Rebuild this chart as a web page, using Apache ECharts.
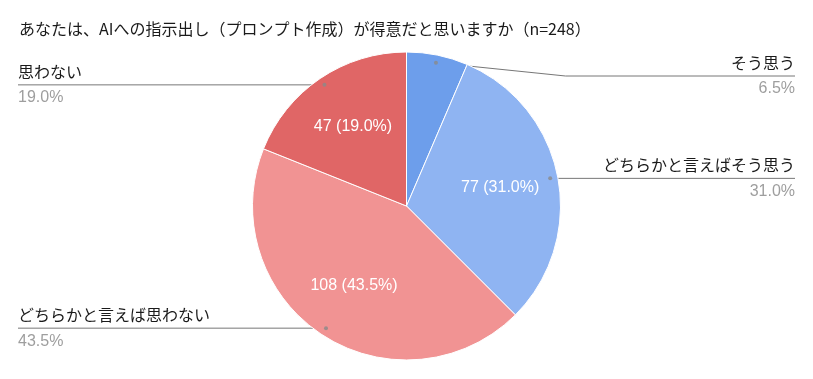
<!DOCTYPE html>
<html><head><meta charset="utf-8">
<script src="https://cdn.jsdelivr.net/npm/echarts@6/dist/echarts.min.js"></script>
<style>html,body{margin:0;padding:0;background:#fff}#c{width:813px;height:379px}</style>
</head><body><div id="c"></div>
<script>
const titleText = 'あなたは、AIへの指示出し（プロンプト作成）が得意だと思いますか（n=248）';
const categories = ['そう思う', 'どちらかと言えばそう思う', 'どちらかと言えば思わない', '思わない'];
const values = [16, 77, 108, 47];
const colors = ['#6d9eeb', '#8fb4f2', '#f19393', '#e06666'];

const W = 813, CX = 406.5, CY = 206, R = 154, ANCHOR = 0.95, EDGE = 18;
const total = values.reduce((a, b) => a + b, 0);
const pct = v => (v / total * 100).toFixed(1);
const mids = [];
let acc = 0;
values.forEach(v => { mids.push(acc + v / 2); acc += v; });
const anchors = mids.map(m => {
  const a = m / total * Math.PI * 2;
  return { x: CX + ANCHOR * R * Math.sin(a), y: CY - ANCHOR * R * Math.cos(a), right: Math.sin(a) >= 0 };
});

const chart = echarts.init(document.getElementById('c'));
const jp = "'Noto Sans CJK JP', sans-serif";
const num = "'Liberation Sans', Arial, sans-serif";

chart.setOption({
  backgroundColor: '#fff',
  animation: false,
  title: {
    text: titleText, left: 19, top: 21, padding: 0,
    textStyle: { fontSize: 16, fontWeight: 'normal', color: '#1a1a1a', fontFamily: jp }
  },
  polar: { center: [CX, CY], radius: R },
  angleAxis: { type: 'value', min: 0, max: total, startAngle: 90, clockwise: true, show: false },
  radiusAxis: { type: 'value', min: 0, max: 1, show: false },
  series: [
    {
      type: 'pie',
      center: [CX, CY],
      radius: [0, R],
      startAngle: 90,
      clockwise: true,
      avoidLabelOverlap: false,
      silent: true,
      itemStyle: { borderColor: '#fff', borderWidth: 1 },
      data: categories.map((c, i) => ({ name: c, value: values[i], itemStyle: { color: colors[i] } })),
      label: {
        show: true,
        position: 'outside',
        formatter: p => '{n|' + p.name + '}\n{p|' + pct(p.value) + '%}',
        rich: {
          n: { fontSize: 16, color: '#1a1a1a', fontFamily: jp, lineHeight: 26 },
          p: { fontSize: 16, color: '#9e9e9e', fontFamily: num, lineHeight: 26 }
        }
      },
      labelLine: { show: true, smooth: false, lineStyle: { color: '#777', width: 1 } },
      labelLayout: params => {
        const a = anchors[params.dataIndex];
        const lineY = Math.max(a.y, 76);
        if (a.right) {
          const knee = lineY !== a.y ? CX + R + 5 : a.x;
          return {
            x: W - EDGE, y: lineY, align: 'right', verticalAlign: 'middle',
            labelLinePoints: [[a.x, a.y], [knee, lineY], [W - EDGE, lineY]]
          };
        } else {
          const knee = lineY !== a.y ? CX - R - 5 : a.x;
          return {
            x: EDGE, y: lineY, align: 'left', verticalAlign: 'middle',
            labelLinePoints: [[a.x, a.y], [knee, lineY], [EDGE, lineY]]
          };
        }
      },
      z: 2
    },
    {
      type: 'pie',
      center: [CX, CY],
      radius: [R * 0.2, R],
      startAngle: 90,
      clockwise: true,
      silent: true,
      avoidLabelOverlap: false,
      itemStyle: { color: 'rgba(0,0,0,0)' },
      data: categories.map((c, i) => ({
        name: c, value: values[i],
        label: { show: values[i] / total >= 0.1 }
      })),
      label: {
        position: 'inside',
        formatter: p => p.value + ' (' + pct(p.value) + '%)',
        color: '#fff', fontSize: 16, fontFamily: num
      },
      labelLine: { show: false },
      z: 3
    },
    {
      type: 'scatter',
      coordinateSystem: 'polar',
      silent: true,
      symbolSize: 4,
      itemStyle: { color: '#8a8a8a' },
      data: mids.map(m => [ANCHOR, m]),
      z: 4
    }
  ]
});
</script>
</body></html>
